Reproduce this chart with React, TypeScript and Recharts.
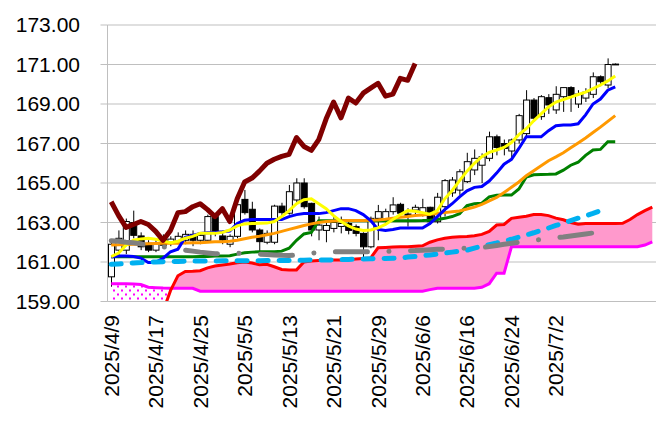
import { Area, Bar, CartesianGrid, ComposedChart, Line, XAxis, YAxis } from "recharts";

// trading days (weekdays), the last few are the cloud's look-ahead
const dates = [
  "2025/4/9", "2025/4/10", "2025/4/11", "2025/4/14", "2025/4/15", "2025/4/16", "2025/4/17", "2025/4/18",
  "2025/4/21", "2025/4/22", "2025/4/23", "2025/4/24", "2025/4/25", "2025/4/28", "2025/4/29", "2025/4/30",
  "2025/5/1", "2025/5/2", "2025/5/5", "2025/5/6", "2025/5/7", "2025/5/8", "2025/5/9", "2025/5/12",
  "2025/5/13", "2025/5/14", "2025/5/15", "2025/5/16", "2025/5/19", "2025/5/20", "2025/5/21", "2025/5/22",
  "2025/5/23", "2025/5/26", "2025/5/27", "2025/5/28", "2025/5/29", "2025/5/30", "2025/6/2", "2025/6/3",
  "2025/6/4", "2025/6/5", "2025/6/6", "2025/6/9", "2025/6/10", "2025/6/11", "2025/6/12", "2025/6/13",
  "2025/6/16", "2025/6/17", "2025/6/18", "2025/6/19", "2025/6/20", "2025/6/23", "2025/6/24", "2025/6/25",
  "2025/6/26", "2025/6/27", "2025/6/30", "2025/7/1", "2025/7/2", "2025/7/3", "2025/7/4", "2025/7/7",
  "2025/7/8", "2025/7/9", "2025/7/10", "2025/7/11", "2025/7/14", "2025/7/15", "2025/7/16", "2025/7/17",
  "2025/7/18", "2025/7/21",
];

const tickDates = [
  "2025/4/9", "2025/4/17", "2025/4/25", "2025/5/5", "2025/5/13", "2025/5/21",
  "2025/5/29", "2025/6/6", "2025/6/16", "2025/6/24", "2025/7/2",
];

const yTicks = [159, 161, 163, 165, 167, 169, 171, 173];

const open = [
  160.25, 161.6, 161.6, 163.0, 162.32, 161.95, 161.6, 162.2, 161.95, 162.0,
  162.1, 162.4, 162.1, 162.1, 163.3, 162.32, 161.9, 162.3, 164.17, 163.67,
  162.62, 162.0, 162.0, 163.83, 163.47, 164.14, 165.0, 163.97, 162.62, 162.6,
  162.7, 162.8, 162.95, 162.79, 162.45, 161.77, 163.21, 163.15, 163.55, 163.92,
  163.43, 163.63, 163.5, 163.77, 163.04, 163.8, 164.5, 164.64, 165.07, 165.66,
  165.9, 166.25, 167.34, 167.0, 166.62, 167.18, 167.5, 169.2, 168.36, 169.32,
  168.7, 169.37, 169.83, 169.0, 169.3, 169.49, 170.38, 169.96, 171.0,
];
const high = [
  162.0, 162.6, 163.2, 163.6, 162.5, 162.1, 162.1, 162.4, 162.3, 162.5,
  162.6, 162.6, 162.5, 163.4, 163.35, 162.5, 162.4, 164.0, 164.65, 164.05,
  162.7, 162.6, 163.9, 164.0, 164.9, 165.24, 165.24, 164.0, 163.3, 163.0,
  163.3, 163.3, 163.1, 162.9, 162.5, 163.3, 163.89, 163.7, 164.28, 164.0,
  163.72, 163.9, 164.2, 163.8, 164.5, 165.2, 165.3, 165.7, 166.53, 166.7,
  166.5, 167.6, 167.45, 167.2, 167.25, 168.5, 169.7, 169.3, 169.45, 169.5,
  169.9, 169.83, 169.9, 169.7, 169.8, 170.6, 170.45, 171.31, 171.05,
];
const low = [
  159.75, 161.2, 161.4, 162.2, 161.6, 161.5, 161.5, 161.7, 161.8, 161.9,
  161.9, 161.8, 161.9, 162.0, 162.3, 161.9, 161.75, 162.2, 163.4, 162.5,
  161.52, 161.9, 161.9, 163.3, 163.4, 164.0, 163.7, 162.3, 162.1, 162.0,
  162.5, 162.45, 162.4, 162.3, 161.1, 161.7, 162.1, 163.0, 163.4, 163.3,
  162.79, 163.4, 163.3, 162.9, 162.95, 163.3, 164.3, 164.4, 165.0, 165.4,
  165.0, 166.1, 166.4, 166.4, 166.2, 167.0, 167.3, 168.1, 168.2, 168.5,
  168.5, 168.6, 168.6, 168.8, 169.1, 169.3, 169.9, 169.8, 170.98,
];
const close = [
  161.9, 162.2, 163.05, 162.35, 161.77, 161.6, 161.95, 161.85, 162.16, 162.3,
  162.4, 162.1, 162.35, 163.3, 162.45, 162.11, 162.3, 163.9, 163.5, 162.62,
  162.03, 162.45, 163.83, 163.5, 164.56, 165.0, 163.8, 162.62, 162.87, 162.85,
  163.0, 162.95, 162.6, 162.45, 161.77, 163.21, 163.55, 163.55, 163.89, 163.47,
  163.33, 163.77, 163.75, 163.04, 164.28, 165.12, 165.15, 165.57, 166.08, 166.25,
  166.33, 167.34, 166.8, 166.75, 167.18, 168.41, 169.2, 168.28, 169.37, 168.95,
  169.49, 169.83, 169.42, 169.5, 169.6, 170.38, 170.13, 171.0, 171.02,
];

// lagging span (dark red)
const chikou = [
  164.05, 163.35, 162.75, 162.9, 163.05, 162.9, 162.55, 162.1, 162.6, 163.5,
  163.55, 163.8, 163.95, 163.65, 163.3, 163.7, 163.05, 164.2, 165.05, 165.25,
  165.6, 166.0, 166.2, 166.35, 166.45, 167.3, 166.85, 166.65, 167.2, 168.25,
  169.1, 168.3, 169.3, 169.05, 169.55, 169.8, 170.05, 169.4, 169.5, 170.3,
  170.2, 171.05,
];

// yellow
const sma5 = [
  161.27, 161.45, 161.85, 162.1, 162.17, 162.2, 162.15, 162.07, 161.98, 162.05,
  162.2, 162.3, 162.45, 162.45, 162.45, 162.5, 162.62, 162.83, 162.93, 162.95,
  162.96, 162.97, 163.05, 163.3, 163.6, 163.95, 164.15, 164.2, 163.95, 163.7,
  163.35, 163.05, 162.83, 162.67, 162.6, 162.62, 162.73, 162.9, 163.15, 163.4,
  163.6, 163.57, 163.5, 163.42, 163.6, 164.2, 164.62, 165.12, 165.6, 166.0,
  166.33, 166.55, 166.67, 166.8, 167.05, 167.45, 167.75, 168.15, 168.5, 168.85,
  169.1, 169.23, 169.35, 169.48, 169.6, 169.78, 169.96, 170.17, 170.42,
];

// blue
const tenkan = [
  161.25, 161.3, 161.3, 161.28, 161.2, 160.97, 160.98, 161.19, 161.52, 161.65,
  162.25, 162.35, 162.45, 162.48, 162.5, 162.53, 162.57, 162.95, 163.12, 163.15,
  163.15, 163.15, 163.15, 163.15, 163.3, 163.4, 163.45, 163.45, 163.45, 163.5,
  163.6, 163.7, 163.7, 163.6, 163.4, 163.1, 162.65, 162.6, 162.65, 162.72,
  162.72, 162.72, 162.72, 162.95, 163.3, 163.65, 163.95, 164.3, 164.6, 164.78,
  164.82, 165.1, 165.5, 165.95, 166.2, 166.75, 167.34, 167.34, 167.34, 167.65,
  167.9, 167.94, 167.94, 168.0, 168.45, 169.0, 169.25, 169.7, 169.87,
];

// orange
const sma25 = [
  161.86, 161.87, 161.88, 161.9, 161.9, 161.92, 161.94, 161.95, 161.95, 161.95,
  161.96, 161.97, 161.98, 162.0, 162.02, 162.03, 162.05, 162.1, 162.18, 162.25,
  162.3, 162.38, 162.45, 162.55, 162.65, 162.75, 162.85, 162.93, 163.0, 163.05,
  163.07, 163.09, 163.1, 163.1, 163.1, 163.11, 163.13, 163.17, 163.22, 163.26,
  163.3, 163.35, 163.38, 163.42, 163.47, 163.5, 163.54, 163.58, 163.68, 163.78,
  163.92, 164.1, 164.27, 164.52, 164.78, 165.05, 165.37, 165.62, 165.87, 166.13,
  166.32, 166.53, 166.78, 167.03, 167.28, 167.56, 167.83, 168.12, 168.41,
];

// green
const kijun = [
  161.27, 161.27, 161.27, 161.27, 161.27, 161.27, 161.27, 161.27, 161.27, 161.27,
  161.27, 161.27, 161.28, 161.28, 161.3, 161.3, 161.32, 161.4, 161.47, 161.5,
  161.52, 161.52, 161.52, 161.55, 161.7, 162.1, 162.42, 162.5, 163.09, 163.09,
  163.09, 163.09, 163.09, 163.09, 163.09, 163.09, 163.09, 163.09, 163.09, 163.09,
  163.09, 163.09, 163.1, 163.12, 163.15, 163.21, 163.3, 163.45, 163.85, 163.95,
  163.98, 164.3, 164.38, 164.39, 164.39, 164.7, 165.3, 165.42, 165.43, 165.44,
  165.46, 165.65, 165.9, 166.05, 166.4, 166.67, 166.7, 167.09, 167.09,
];

// grey dash-dot
const sma75 = [
  162.08, 162.05, 162.0, 161.97, 161.92, 161.87, 161.82, 161.77, 161.72, 161.66,
  161.6, 161.55, 161.5, 161.46, 161.42, 161.41, 161.42, 161.44, 161.43, 161.41,
  161.4, 161.38, 161.36, 161.34, 161.33, 161.35, 161.4, 161.45, 161.48, 161.5,
  161.52, 161.52, 161.52, 161.52, 161.52, 161.52, 161.52, 161.53, 161.55, 161.56,
  161.57, 161.58, 161.6, 161.62, 161.64, 161.65, 161.67, 161.69, 161.7, 161.71,
  161.73, 161.78, 161.84, 161.9, 161.95, 162.0, 162.05, 162.1, 162.14, 162.18,
  162.23, 162.27, 162.32, 162.37, 162.42, 162.47, 162.52, 162.56,
];

// light blue dashed
const sma200 = [
  160.88, 160.9, 160.92, 160.95, 160.97, 161.0, 161.0, 161.01, 161.02, 161.03,
  161.04, 161.05, 161.05, 161.05, 161.05, 161.06, 161.06, 161.06, 161.06, 161.06,
  161.06, 161.07, 161.07, 161.08, 161.08, 161.09, 161.09, 161.1, 161.1, 161.1,
  161.11, 161.12, 161.13, 161.14, 161.15, 161.16, 161.17, 161.18, 161.19, 161.2,
  161.25, 161.28, 161.32, 161.36, 161.4, 161.45, 161.5, 161.55, 161.6, 161.7,
  161.8, 161.88, 161.96, 162.05, 162.15, 162.26, 162.37, 162.48, 162.6, 162.72,
  162.85, 162.97, 163.1, 163.22, 163.33, 163.46, 163.6, 163.73,
];

// leading span A (red) and B (magenta)
const spanA = [
  158.0, 158.0, 158.1, 158.1, 158.2, 158.3, 158.4, 158.5, 159.55, 160.3,
  160.52, 160.53, 160.56, 160.7, 160.8, 160.85, 160.9, 160.96, 161.0, 160.95,
  160.86, 160.88, 160.76, 160.62, 160.6, 160.6, 161.0, 161.05, 161.07, 161.09,
  161.1, 161.1, 161.12, 161.15, 161.18, 161.2, 161.72, 161.74, 161.76, 161.77,
  161.77, 161.8, 161.82, 162.0, 162.12, 162.2, 162.25, 162.28, 162.29, 162.33,
  162.4, 162.55, 162.87, 162.9, 163.21, 163.27, 163.32, 163.4, 163.41, 163.35,
  163.22, 163.14, 163.0, 162.91, 162.95, 162.95, 162.95, 162.95, 162.95, 162.96,
  163.15, 163.4, 163.6, 163.78,
];
const spanB = [
  159.9, 159.9, 159.9, 159.88, 159.86, 159.72, 159.7, 159.68, 159.67, 159.67,
  159.67, 159.67, 159.52, 159.52, 159.52, 159.52, 159.52, 159.52, 159.52, 159.52,
  159.52, 159.52, 159.52, 159.52, 159.52, 159.52, 159.52, 159.52, 159.52, 159.52,
  159.52, 159.52, 159.52, 159.52, 159.52, 159.52, 159.52, 159.52, 159.52, 159.52,
  159.52, 159.52, 159.52, 159.6, 159.67, 159.67, 159.67, 159.67, 159.67, 159.67,
  159.72, 159.9, 160.43, 160.43, 161.77, 161.77, 161.77, 161.77, 161.77, 161.77,
  161.77, 161.77, 161.77, 161.77, 161.77, 161.77, 161.77, 161.77, 161.77, 161.77,
  161.77, 161.77, 161.86, 162.02,
];

const GRID = "#bfbfbf";
const FONT = "'Liberation Sans', Arial, sans-serif";

const v = (arr: number[], i: number) => (arr[i] === undefined ? null : arr[i]);
const aboveAt = (i: number) => spanA[i] !== undefined && spanA[i] >= spanB[i];

const rows = dates.map((date, i) => {
  const a = spanA[i];
  const b = spanB[i];
  const up = aboveAt(i);
  const nearUp = aboveAt(i - 1) || aboveAt(i + 1);
  const nearDown = (i > 0 && !aboveAt(i - 1)) || (i + 1 < dates.length && !aboveAt(i + 1));
  return {
    date,
    open: v(open, i),
    high: v(high, i),
    low: v(low, i),
    close: v(close, i),
    candle: high[i] === undefined ? null : [low[i], high[i]],
    chikou: v(chikou, i),
    sma5: v(sma5, i),
    tenkan: v(tenkan, i),
    sma25: v(sma25, i),
    kijun: v(kijun, i),
    sma75: v(sma75, i),
    sma200: v(sma200, i),
    spanA: a,
    spanB: b,
    kumoUp: up ? [b, a] : nearUp ? [b, b] : null,
    kumoDown: !up ? [a, b] : nearDown ? [b, b] : null,
  };
});

function Candle(props: any) {
  const { x, y, width, height, payload } = props;
  if (!payload || payload.high == null) return null;
  const { open: o, close: c, high: h, low: l } = payload;
  const k = height / (h - l);
  const py = (val: number) => y + (h - val) * k;
  const cx = x + width / 2;
  const top = py(Math.max(o, c));
  const bottom = py(Math.min(o, c));
  return (
    <g>
      <line x1={cx} x2={cx} y1={y} y2={y + height} stroke="#000" strokeWidth={1} />
      <rect
        x={x}
        y={top}
        width={width}
        height={Math.max(bottom - top, 0.8)}
        fill={c >= o ? "#fff" : "#000"}
        stroke="#000"
        strokeWidth={1}
      />
    </g>
  );
}

function DateTick({ x, y, payload }: any) {
  return (
    <text
      x={x}
      y={y}
      dy={7.5}
      transform={`rotate(-90 ${x} ${y})`}
      textAnchor="end"
      fontSize={21}
      fontFamily={FONT}
      fill="#000"
    >
      {payload.value}
    </text>
  );
}

export default function App() {
  return (
    <div style={{ position: "absolute", left: 0, top: 0, width: 660, height: 433, background: "#fff" }}>
      <ComposedChart
        width={660}
        height={433}
        data={rows}
        margin={{ top: 25, right: 4, bottom: 0, left: 0 }}
      >
        <defs>
          <pattern id="kumoDots" width="8" height="8" patternUnits="userSpaceOnUse">
            <rect width="8" height="8" fill="#fff" />
            <rect x="1" y="1.5" width="2" height="2" fill="#ff00ff" />
            <rect x="5" y="5.5" width="2" height="2" fill="#ff00ff" />
          </pattern>
        </defs>
        <CartesianGrid stroke={GRID} vertical={false} />
        <XAxis
          dataKey="date"
          ticks={tickDates}
          interval={0}
          height={131.5}
          tick={<DateTick />}
          tickLine={false}
          tickSize={6}
          tickMargin={7.5}
          axisLine={{ stroke: GRID }}
        />
        <YAxis
          width={107.5}
          domain={[159, 173]}
          ticks={yTicks}
          allowDataOverflow
          tickFormatter={(t) => Number(t).toFixed(2)}
          tick={{ fill: "#000", fontSize: 21, fontFamily: FONT }}
          tickSize={7}
          tickMargin={20.5}
          tickLine={{ stroke: GRID }}
          axisLine={{ stroke: GRID }}
        />

        <Area dataKey="kumoDown" type="linear" stroke="none" fill="url(#kumoDots)" fillOpacity={1} isAnimationActive={false} />
        <Area dataKey="kumoUp" type="linear" stroke="none" fill="#ff99cc" fillOpacity={1} isAnimationActive={false} />
        <Line dataKey="spanB" type="linear" stroke="#ff00ff" strokeWidth={3} dot={false} isAnimationActive={false} />
        <Line dataKey="spanA" type="linear" stroke="#ff0000" strokeWidth={3} dot={false} isAnimationActive={false} />

        <Bar dataKey="candle" barSize={6} shape={<Candle />} isAnimationActive={false} />

        <Line dataKey="kijun" type="linear" stroke="#008000" strokeWidth={3} dot={false} isAnimationActive={false} />
        <Line dataKey="sma25" type="linear" stroke="#ff9900" strokeWidth={3} dot={false} isAnimationActive={false} />
        <Line dataKey="tenkan" type="linear" stroke="#0000ff" strokeWidth={3} dot={false} isAnimationActive={false} />
        <Line dataKey="sma5" type="linear" stroke="#ffff00" strokeWidth={3} dot={false} isAnimationActive={false} />
        <Line
          dataKey="sma200"
          type="linear"
          stroke="#00b0f0"
          strokeWidth={5}
          strokeDasharray="10 11"
          strokeLinecap="round"
          dot={false}
          isAnimationActive={false}
        />
        <Line
          dataKey="sma75"
          type="linear"
          stroke="#808080"
          strokeWidth={5}
          strokeDasharray="32 21.5 0.1 21.5"
          strokeLinecap="round"
          dot={false}
          isAnimationActive={false}
        />
        <Line
          dataKey="chikou"
          type="linear"
          stroke="#800000"
          strokeWidth={5}
          strokeLinejoin="round"
          dot={false}
          isAnimationActive={false}
        />
      </ComposedChart>
    </div>
  );
}
